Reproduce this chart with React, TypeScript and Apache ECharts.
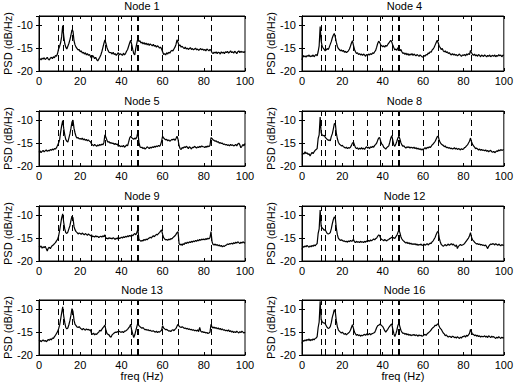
import React, { useEffect, useRef } from 'react';
import * as echarts from 'echarts';

// sampling grid of the PSD estimate (Hz)
const freqs: number[] = Array.from({ length: 201 }, (_, i) => i * 0.5);
// identified modal frequencies (dashed lines)
const modeFreqs = [9.4, 11.6, 16.3, 25.6, 32.2, 38.6, 44.8, 47.8, 48.3, 60.0, 67.5, 83.7];
const nodeNames = ['Node 1', 'Node 4', 'Node 5', 'Node 8', 'Node 9', 'Node 12', 'Node 13', 'Node 16'];
const xTicks = [0, 20, 40, 60, 80, 100];
const yTicks = [-20, -15, -10];

const node1 = [
  -17.5, -17.3, -17.6, -17.2, -17.4, -17.1, -17.5, -17.3, -17.0, -17.4,
  -17.6, -17.2, -17.0, -17.3, -16.9, -17.1, -16.6, -16.8, -16.2, -15.2,
  -14.6, -13.8, -12.5, -10.1, -12.3, -14.0, -14.8, -15.2, -14.6, -14.0,
  -13.2, -12.2, -11.0, -11.3, -13.4, -14.3, -14.8, -15.1, -15.4, -15.3,
  -15.8, -15.6, -16.1, -15.9, -16.3, -16.0, -16.5, -16.2, -16.6, -16.4,
  -16.8, -17.2, -16.6, -16.9, -17.3, -17.0, -17.5, -17.8, -17.4, -17.0,
  -16.5, -15.8, -14.9, -14.0, -13.2, -14.0, -14.9, -15.5, -15.9, -16.0,
  -16.0, -16.3, -15.9, -16.4, -16.2, -16.6, -16.3, -16.0, -16.5, -16.2,
  -16.4, -16.6, -16.1, -16.5, -16.2, -15.7, -15.3, -14.6, -13.9, -13.3,
  -14.2, -15.3, -16.2, -16.5, -15.0, -13.9, -12.9, -13.6, -13.4, -13.9,
  -13.7, -14.1, -13.8, -14.2, -13.9, -14.3, -14.0, -14.4, -14.1, -14.3,
  -14.5, -14.2, -14.6, -14.4, -14.8, -14.5, -14.7, -15.0, -14.8, -15.2,
  -15.8, -16.4, -16.2, -16.5, -16.0, -16.3, -15.9, -16.1, -15.7, -15.5,
  -15.6, -15.2, -14.8, -14.2, -13.2, -13.8, -14.5, -14.3, -14.8, -14.6,
  -14.9, -15.1, -14.8, -15.2, -15.0, -15.3, -15.1, -14.9, -15.3, -15.1,
  -15.4, -15.2, -15.0, -15.4, -15.2, -15.5, -15.3, -15.1, -15.4, -15.2,
  -15.5, -15.3, -15.6, -15.2, -15.4, -15.6, -15.3, -15.5, -16.0, -16.2,
  -15.9, -16.1, -15.8, -16.2, -15.9, -16.0, -16.3, -15.8, -16.1, -15.9,
  -16.2, -15.8, -16.0, -15.7, -16.1, -15.9, -15.6, -16.0, -15.8, -16.1,
  -15.7, -15.9, -16.2, -15.8, -15.6, -16.0, -15.7, -15.9, -15.8, -16.0,
  -15.7,
];

const node4 = [
  -17.6, -16.6, -16.9, -16.7, -17.0, -16.6, -16.8, -16.5, -16.9, -16.7,
  -16.8, -16.5, -16.9, -16.6, -16.4, -16.7, -15.8, -14.5, -10.3, -13.5,
  -14.6, -15.0, -15.3, -15.6, -15.4, -15.1, -15.3, -14.8, -14.2, -13.6,
  -12.8, -12.2, -11.8, -12.6, -13.7, -14.6, -15.1, -15.3, -15.6, -15.4,
  -15.7, -15.5, -15.9, -15.7, -16.0, -15.8, -15.6, -15.2, -14.6, -13.9,
  -13.4, -14.4, -15.3, -15.8, -16.2, -16.0, -16.4, -16.2, -16.5, -16.3,
  -16.6, -16.3, -16.5, -16.8, -16.4, -16.6, -16.3, -16.5, -16.2, -16.4,
  -16.0, -16.2, -15.8, -15.5, -14.8, -14.0, -13.5, -13.8, -14.3, -14.5,
  -14.7, -14.5, -14.8, -14.4, -14.6, -14.2, -13.9, -13.6, -13.3, -13.7,
  -14.4, -14.9, -15.4, -15.2, -15.5, -14.9, -15.1, -15.6, -15.3, -15.8,
  -16.2, -16.0, -16.4, -16.1, -16.5, -16.2, -16.6, -16.3, -16.5, -16.2,
  -16.6, -16.3, -16.5, -16.7, -16.4, -16.6, -16.8, -16.5, -16.7, -16.9,
  -17.0, -16.6, -16.8, -16.4, -16.5, -16.1, -16.2, -15.8, -15.9, -15.4,
  -15.2, -14.8, -14.3, -13.8, -13.3, -13.9, -14.6, -14.9, -15.3, -15.1,
  -15.6, -15.8, -15.6, -16.0, -15.8, -16.2, -16.0, -16.3, -16.5, -16.2,
  -16.5, -16.3, -16.6, -16.4, -16.7, -16.5, -16.3, -16.6, -16.8, -16.5,
  -16.6, -16.4, -16.7, -16.3, -16.5, -16.2, -16.4, -15.5, -16.0, -16.4,
  -16.6, -16.3, -16.7, -16.5, -16.8, -16.4, -16.6, -16.9, -16.5, -16.7,
  -16.8, -16.5, -16.7, -16.9, -16.6, -16.8, -16.5, -16.9, -16.7, -16.6,
  -16.8, -16.5, -16.9, -16.6, -16.8, -16.4, -16.7, -16.5, -16.9, -16.6,
  -16.5,
];

const node5 = [
  -17.0, -16.7, -17.1, -16.8, -16.6, -16.9, -16.7, -16.5, -16.8, -16.6,
  -16.7, -16.4, -16.6, -16.3, -16.5, -16.2, -16.3, -16.0, -15.5, -15.0,
  -14.3, -12.6, -11.2, -10.1, -11.8, -13.2, -14.2, -14.6, -14.8, -13.9,
  -13.0, -11.8, -10.4, -10.0, -11.8, -12.8, -13.6, -13.9, -13.8, -14.1,
  -14.0, -14.2, -13.9, -14.3, -14.1, -14.4, -14.2, -14.5, -14.3, -14.6,
  -14.7, -15.2, -15.4, -15.6, -15.3, -15.5, -15.7, -15.4, -15.6, -15.3,
  -15.5, -15.2, -15.4, -14.9, -13.2, -13.8, -14.4, -14.8, -14.7, -15.0,
  -14.9, -15.1, -15.0, -15.3, -15.1, -15.3, -15.2, -15.7, -15.5, -15.8,
  -15.6, -15.8, -15.5, -15.9, -15.7, -15.4, -15.6, -14.8, -13.9, -13.5,
  -13.8, -14.0, -14.2, -13.9, -14.1, -13.6, -12.6, -14.8, -15.8, -16.0,
  -15.9, -16.2, -16.0, -16.3, -16.1, -15.8, -16.0, -16.2, -15.9, -16.1,
  -15.8, -16.0, -15.7, -15.9, -15.6, -15.8, -15.5, -15.7, -15.4, -14.6,
  -13.5, -13.9, -14.1, -14.3, -14.2, -14.5, -14.3, -14.6, -14.4, -14.2,
  -14.3, -14.1, -14.4, -14.0, -13.5, -14.2, -15.6, -16.2, -16.4, -16.0,
  -16.1, -15.8, -16.0, -15.7, -15.9, -16.2, -15.8, -16.0, -16.3, -15.9,
  -16.0, -15.7, -15.9, -16.1, -15.8, -16.0, -15.7, -15.9, -15.6, -15.8,
  -15.8, -16.0, -15.7, -15.9, -15.6, -15.8, -15.5, -13.8, -14.0, -14.3,
  -14.4, -14.6, -14.5, -14.8, -14.7, -15.0, -14.9, -15.1, -15.0, -15.3,
  -15.2, -15.4, -15.3, -15.5, -15.4, -15.6, -15.3, -15.5, -15.4, -15.6,
  -15.5, -15.3, -15.6, -15.2, -15.0, -15.4, -16.0, -15.7, -15.3, -15.6,
  -15.1,
];

const node8 = [
  -17.5, -17.2, -17.4, -16.9, -17.3, -17.1, -17.5, -17.3, -17.8, -17.4,
  -17.0, -17.3, -16.9, -16.6, -16.4, -16.2, -14.0, -13.2, -9.3, -12.8,
  -13.2, -13.4, -13.3, -13.7, -14.0, -14.2, -14.4, -14.3, -14.5, -13.6,
  -13.0, -12.0, -10.8, -10.7, -12.8, -14.0, -14.8, -15.2, -15.4, -15.6,
  -15.5, -15.8, -15.9, -16.1, -15.9, -16.2, -16.0, -16.1, -15.9, -15.5,
  -15.0, -14.8, -15.4, -16.0, -16.2, -16.0, -16.4, -16.1, -16.3, -16.0,
  -16.3, -16.1, -16.4, -16.0, -15.8, -16.1, -15.9, -16.2, -15.8, -16.0,
  -15.7, -15.9, -15.5, -15.3, -15.0, -14.4, -13.9, -13.8, -14.6, -15.2,
  -15.4, -15.9, -16.1, -16.3, -16.0, -15.8, -15.6, -14.8, -13.9, -13.4,
  -14.4, -15.4, -15.7, -15.2, -14.6, -13.9, -13.5, -14.1, -14.9, -15.4,
  -15.7, -15.6, -15.9, -16.1, -15.8, -16.0, -15.8, -16.1, -15.9, -16.0,
  -16.1, -15.9, -16.2, -16.0, -16.3, -16.1, -16.4, -16.2, -16.5, -16.3,
  -16.5, -16.2, -16.0, -16.3, -15.9, -16.1, -15.8, -16.0, -15.7, -15.4,
  -15.2, -14.9, -14.6, -14.1, -13.6, -13.5, -14.4, -14.9, -15.2, -15.4,
  -15.5, -15.8, -15.6, -16.0, -15.9, -16.1, -16.0, -16.2, -16.1, -16.3,
  -16.2, -16.0, -16.3, -16.1, -16.4, -16.2, -16.3, -16.5, -16.2, -16.4,
  -16.3, -16.0, -15.9, -15.6, -15.4, -15.0, -14.6, -13.9, -14.7, -15.3,
  -15.6, -15.9, -16.2, -16.1, -16.3, -16.5, -16.3, -16.6, -16.4, -16.6,
  -16.5, -16.7, -16.5, -16.8, -16.6, -16.9, -16.7, -16.6, -16.9, -17.0,
  -16.8, -17.1, -16.9, -16.7, -16.8, -16.5, -16.7, -16.4, -16.6, -16.5,
  -16.4,
];

const node9 = [
  -16.8, -17.0, -16.7, -17.2, -16.9, -17.1, -16.8, -17.3, -17.8, -17.2,
  -17.0, -17.3, -16.9, -16.6, -16.5, -16.2, -16.0, -15.6, -15.3, -14.6,
  -13.4, -12.0, -10.6, -9.7, -11.6, -13.0, -13.8, -14.0, -13.7, -13.0,
  -12.3, -11.2, -10.2, -10.6, -12.5, -13.2, -13.6, -13.8, -14.1, -13.9,
  -14.0, -14.2, -13.9, -14.1, -14.3, -14.0, -14.2, -14.4, -14.1, -14.3,
  -14.5, -14.3, -14.7, -14.6, -14.8, -14.5, -14.7, -14.6, -14.9, -14.7,
  -14.6, -14.8, -14.5, -14.7, -14.3, -15.1, -15.0, -15.2, -14.9, -15.1,
  -15.0, -15.2, -14.9, -15.1, -15.3, -15.0, -15.2, -14.8, -15.1, -15.0,
  -14.8, -15.0, -14.7, -14.9, -14.6, -14.8, -14.5, -14.7, -14.4, -14.6,
  -14.3, -14.5, -14.2, -14.0, -14.3, -13.8, -13.0, -15.3, -15.5, -15.7,
  -15.5, -15.6, -15.3, -15.5, -15.2, -15.4, -15.1, -15.0, -14.8, -15.0,
  -14.7, -14.5, -14.7, -14.4, -14.2, -14.3, -14.0, -13.8, -13.5, -13.2,
  -14.2, -14.9, -15.2, -15.4, -15.3, -15.5, -15.2, -15.4, -15.1, -15.2,
  -14.9, -14.7, -14.5, -14.2, -13.8, -13.6, -16.2, -16.5, -16.3, -16.6,
  -16.2, -16.4, -16.0, -16.2, -15.9, -16.1, -15.8, -16.0, -15.7, -15.9,
  -15.6, -15.8, -15.5, -15.7, -15.4, -15.6, -15.3, -15.5, -15.2, -15.4,
  -15.2, -15.4, -15.1, -15.3, -15.0, -15.2, -14.9, -13.6, -15.8, -16.4,
  -16.5, -16.3, -16.6, -16.4, -16.7, -16.5, -16.8, -16.6, -16.9, -16.7,
  -16.8, -16.6, -16.5, -16.3, -16.4, -16.2, -16.3, -16.1, -16.3, -16.0,
  -16.2, -15.9, -16.1, -15.8, -16.0, -16.2, -15.9, -16.1, -15.8, -16.0,
  -16.1,
];

const node12 = [
  -17.5, -16.8, -17.0, -16.7, -16.9, -16.6, -16.8, -17.0, -16.7, -16.9,
  -16.6, -16.8, -16.5, -16.7, -16.4, -16.2, -14.0, -13.0, -8.9, -12.4,
  -12.8, -13.0, -13.3, -13.2, -13.6, -14.0, -14.1, -14.0, -13.8, -13.0,
  -11.9, -11.0, -10.4, -10.6, -12.8, -14.2, -15.0, -15.3, -15.5, -15.4,
  -15.5, -15.7, -15.6, -15.8, -15.7, -15.9, -15.6, -15.8, -15.5, -15.7,
  -15.6, -15.3, -15.8, -16.0, -15.7, -15.9, -15.8, -16.0, -15.7, -15.9,
  -15.8, -16.0, -15.7, -15.9, -15.6, -15.8, -15.5, -15.7, -15.4, -15.6,
  -15.4, -15.2, -15.4, -15.1, -15.0, -14.6, -14.3, -14.5, -15.1, -15.3,
  -15.4, -15.6, -15.3, -15.5, -15.6, -15.4, -15.3, -15.1, -15.0, -14.8,
  -15.0, -14.9, -15.1, -14.7, -14.4, -13.8, -13.2, -13.8, -14.7, -15.2,
  -15.5, -15.7, -15.9, -16.1, -15.9, -16.2, -16.0, -16.3, -16.1, -16.4,
  -16.2, -16.4, -16.2, -16.5, -16.3, -16.6, -16.4, -16.5, -16.3, -16.6,
  -16.5, -16.3, -16.6, -16.4, -16.2, -16.5, -16.3, -16.1, -16.2, -15.8,
  -15.6, -15.2, -14.8, -14.2, -13.7, -13.5, -15.0, -15.8, -16.4, -16.6,
  -16.8, -16.6, -16.4, -16.7, -16.5, -16.3, -16.6, -16.4, -16.2, -16.5,
  -16.3, -16.6, -16.8, -16.5, -17.3, -16.8, -16.6, -16.4, -16.6, -16.5,
  -16.4, -16.2, -15.9, -15.6, -15.3, -15.0, -14.5, -13.8, -14.8, -15.4,
  -15.6, -15.9, -16.1, -16.3, -16.2, -16.4, -16.3, -16.5, -16.4, -16.6,
  -16.5, -16.7, -16.5, -16.9, -17.3, -16.8, -16.5, -16.3, -16.4, -16.2,
  -16.3, -16.5, -16.2, -16.4, -16.6, -16.3, -16.5, -16.7, -16.4, -16.6,
  -16.5,
];

const node13 = [
  -17.0, -16.8, -17.1, -16.9, -16.7, -17.0, -16.8, -17.1, -16.9, -16.6,
  -16.8, -16.5, -16.7, -16.3, -16.4, -16.0, -15.7, -15.3, -14.9, -14.3,
  -13.5, -12.2, -10.8, -9.5, -11.5, -12.9, -14.0, -14.3, -14.1, -13.4,
  -12.5, -11.3, -9.9, -10.5, -12.4, -13.3, -13.6, -13.9, -14.0, -13.8,
  -14.1, -14.3, -14.5, -14.2, -14.4, -14.6, -14.3, -14.5, -14.4, -14.6,
  -14.5, -15.3, -15.5, -15.2, -15.6, -15.4, -15.5, -15.2, -15.0, -14.6,
  -14.8, -14.4, -14.1, -13.8, -13.5, -14.6, -15.3, -15.5, -15.6, -16.0,
  -16.1, -15.6, -15.4, -15.2, -15.0, -15.1, -14.9, -15.0, -14.8, -15.0,
  -15.0, -14.9, -15.1, -14.8, -14.8, -14.6, -14.4, -14.1, -13.8, -13.3,
  -14.6, -15.4, -16.2, -15.6, -14.7, -13.8, -13.0, -13.6, -13.8, -14.0,
  -14.2, -14.0, -14.3, -14.5, -14.4, -14.6, -14.5, -14.7, -14.6, -14.8,
  -14.8, -14.7, -14.9, -15.0, -14.8, -15.1, -14.9, -15.0, -14.8, -14.6,
  -13.6, -14.1, -14.3, -14.5, -14.4, -14.6, -14.8, -14.7, -14.9, -14.6,
  -14.5, -14.7, -14.4, -14.2, -13.7, -13.3, -13.7, -13.9, -14.0, -13.8,
  -14.0, -14.2, -14.1, -14.3, -14.2, -14.4, -14.3, -14.5, -14.4, -14.6,
  -14.5, -14.7, -14.6, -14.8, -14.5, -14.9, -14.0, -14.8, -15.0, -14.9,
  -15.1, -15.0, -15.2, -15.1, -15.3, -15.2, -15.0, -13.3, -13.9, -14.1,
  -13.9, -14.2, -14.0, -14.3, -14.1, -14.4, -14.2, -14.5, -14.3, -14.6,
  -14.5, -14.7, -14.6, -14.8, -14.5, -14.9, -14.7, -15.0, -14.8, -15.1,
  -14.9, -15.1, -14.8, -15.0, -15.2, -14.9, -15.1, -14.8, -15.0, -15.2,
  -15.0,
];

const node16 = [
  -17.5, -16.8, -17.0, -16.7, -16.9, -16.6, -16.8, -16.5, -16.9, -16.6,
  -16.8, -16.5, -16.7, -16.4, -16.3, -16.0, -14.0, -12.8, -8.3, -12.3,
  -12.7, -13.0, -13.0, -13.2, -13.6, -14.0, -14.2, -14.1, -13.8, -13.0,
  -11.8, -11.0, -10.1, -10.6, -12.5, -13.8, -14.5, -14.8, -15.0, -15.2,
  -15.0, -15.3, -15.5, -15.3, -15.6, -15.4, -15.2, -15.0, -14.6, -14.0,
  -13.4, -14.2, -15.0, -15.4, -15.7, -15.5, -15.8, -15.6, -15.9, -15.7,
  -15.8, -15.6, -15.5, -15.7, -15.4, -15.6, -15.5, -15.3, -15.6, -15.4,
  -15.3, -15.2, -15.1, -14.6, -14.0, -13.6, -13.5, -13.3, -13.4, -13.6,
  -13.8, -14.2, -14.7, -15.0, -14.7, -14.4, -14.0, -13.7, -13.4, -13.2,
  -14.4, -15.3, -16.0, -15.4, -14.6, -13.6, -13.0, -13.8, -14.6, -15.0,
  -15.3, -15.2, -15.5, -15.3, -15.6, -15.4, -15.7, -15.5, -15.8, -15.6,
  -15.7, -15.5, -15.8, -15.6, -15.7, -15.9, -15.6, -15.8, -15.7, -15.9,
  -15.8, -15.6, -15.5, -15.7, -15.4, -15.2, -15.0, -14.8, -14.5, -14.2,
  -14.0, -13.8, -13.5, -13.6, -13.3, -13.2, -13.8, -14.2, -14.4, -14.8,
  -15.2, -15.4, -15.8, -15.6, -15.9, -16.1, -15.9, -16.0, -16.2, -15.9,
  -16.0, -16.2, -16.1, -16.3, -16.0, -16.2, -16.4, -16.1, -16.3, -16.0,
  -16.0, -15.8, -16.1, -15.7, -15.9, -15.6, -15.3, -14.4, -15.0, -15.5,
  -15.5, -15.8, -15.6, -15.9, -15.7, -16.0, -15.8, -16.1, -15.9, -16.0,
  -16.0, -15.8, -16.1, -15.9, -16.2, -15.8, -16.0, -16.2, -15.9, -16.1,
  -16.0, -16.2, -16.4, -16.1, -16.3, -16.0, -16.2, -16.4, -16.1, -16.3,
  -16.2,
];

const nodeValues = [node1, node4, node5, node8, node9, node12, node13, node16];

const FONT = '"Liberation Sans", Arial, Helvetica, sans-serif';
const colLeft = [39, 302];
const colWidth = [206, 205];
const rowTop = [16, 111, 206, 300];
const plotH = 55;

function buildOption() {
  const grid: any[] = [];
  const xAxis: any[] = [];
  const yAxis: any[] = [];
  const series: any[] = [];
  const title: any[] = [];
  const n = nodeNames.length;
  const tickStyle = { show: true, inside: true, length: 3, lineStyle: { color: '#000', width: 1 } };
  const lineStyle = { show: true, lineStyle: { color: '#000', width: 1 } };

  for (let i = 0; i < n; i++) {
    const col = i % 2;
    const row = Math.floor(i / 2);
    const left = colLeft[col];
    const top = rowTop[row];
    grid.push({
      left, top, width: colWidth[col], height: plotH,
      show: true, borderColor: '#000', borderWidth: 1, backgroundColor: '#fff',
      containLabel: false,
    });
    title.push({
      text: nodeNames[i],
      left: left + colWidth[col] / 2,
      top: top - 16,
      textAlign: 'center',
      padding: 0,
      textStyle: { fontSize: 11, fontWeight: 'normal', color: '#000', fontFamily: FONT },
    });
    xAxis.push({
      type: 'value', gridIndex: i, min: xTicks[0], max: xTicks[xTicks.length - 1],
      interval: xTicks[1] - xTicks[0], position: 'bottom',
      axisLine: lineStyle, axisTick: tickStyle, splitLine: { show: false },
      axisLabel: { show: true, margin: 4, color: '#000', fontSize: 11, fontFamily: FONT },
      name: row === 3 ? 'freq (Hz)' : '', nameLocation: 'middle', nameGap: 15,
      nameTextStyle: { fontSize: 11, color: '#000', fontFamily: FONT },
    });
    yAxis.push({
      type: 'value', gridIndex: i, min: yTicks[0], max: -8,
      interval: yTicks[1] - yTicks[0], position: 'left',
      axisLine: lineStyle, axisTick: tickStyle, splitLine: { show: false },
      axisLabel: {
        show: true, margin: 6, color: '#000', fontSize: 11, fontFamily: FONT,
        formatter: (v: number) => (yTicks.indexOf(v) >= 0 ? String(v) : ''),
      },
      name: 'PSD (dB/Hz)', nameLocation: 'middle', nameGap: 26, nameRotate: 90,
      nameTextStyle: { fontSize: 11, color: '#000', fontFamily: FONT },
    });
    series.push({
      type: 'line', xAxisIndex: i, yAxisIndex: i, showSymbol: false, symbol: 'none',
      lineStyle: { color: '#000', width: 1.2 }, silent: true,
      data: freqs.map((f, k) => [f, nodeValues[i][k]]),
      markLine: {
        silent: true, symbol: ['none', 'none'], label: { show: false },
        lineStyle: { color: '#000', width: 1, type: [6, 4] },
        emphasis: { disabled: true },
        data: modeFreqs.map((f) => ({ xAxis: f })),
      },
    });
  }
  // mirrored axes (top / right) carrying inward ticks, as in the original box style
  for (let i = 0; i < n; i++) {
    xAxis.push({
      type: 'value', gridIndex: i, min: xTicks[0], max: xTicks[xTicks.length - 1],
      interval: xTicks[1] - xTicks[0], position: 'top',
      axisLine: lineStyle, axisTick: tickStyle, splitLine: { show: false }, axisLabel: { show: false },
    });
    yAxis.push({
      type: 'value', gridIndex: i, min: yTicks[0], max: -8,
      interval: yTicks[1] - yTicks[0], position: 'right',
      axisLine: lineStyle, axisTick: tickStyle, splitLine: { show: false }, axisLabel: { show: false },
    });
  }
  return {
    animation: false,
    backgroundColor: '#fff',
    textStyle: { fontFamily: FONT },
    title, grid, xAxis, yAxis, series,
  };
}

export default function App() {
  const ref = useRef<HTMLDivElement>(null);
  useEffect(() => {
    if (!ref.current) return;
    const chart = echarts.init(ref.current, undefined, { renderer: 'svg' });
    chart.setOption(buildOption() as any);
    return () => chart.dispose();
  }, []);
  return (
    <div
      ref={ref}
      style={{ position: 'absolute', left: 0, top: 0, width: 516, height: 387, background: '#fff' }}
    />
  );
}
